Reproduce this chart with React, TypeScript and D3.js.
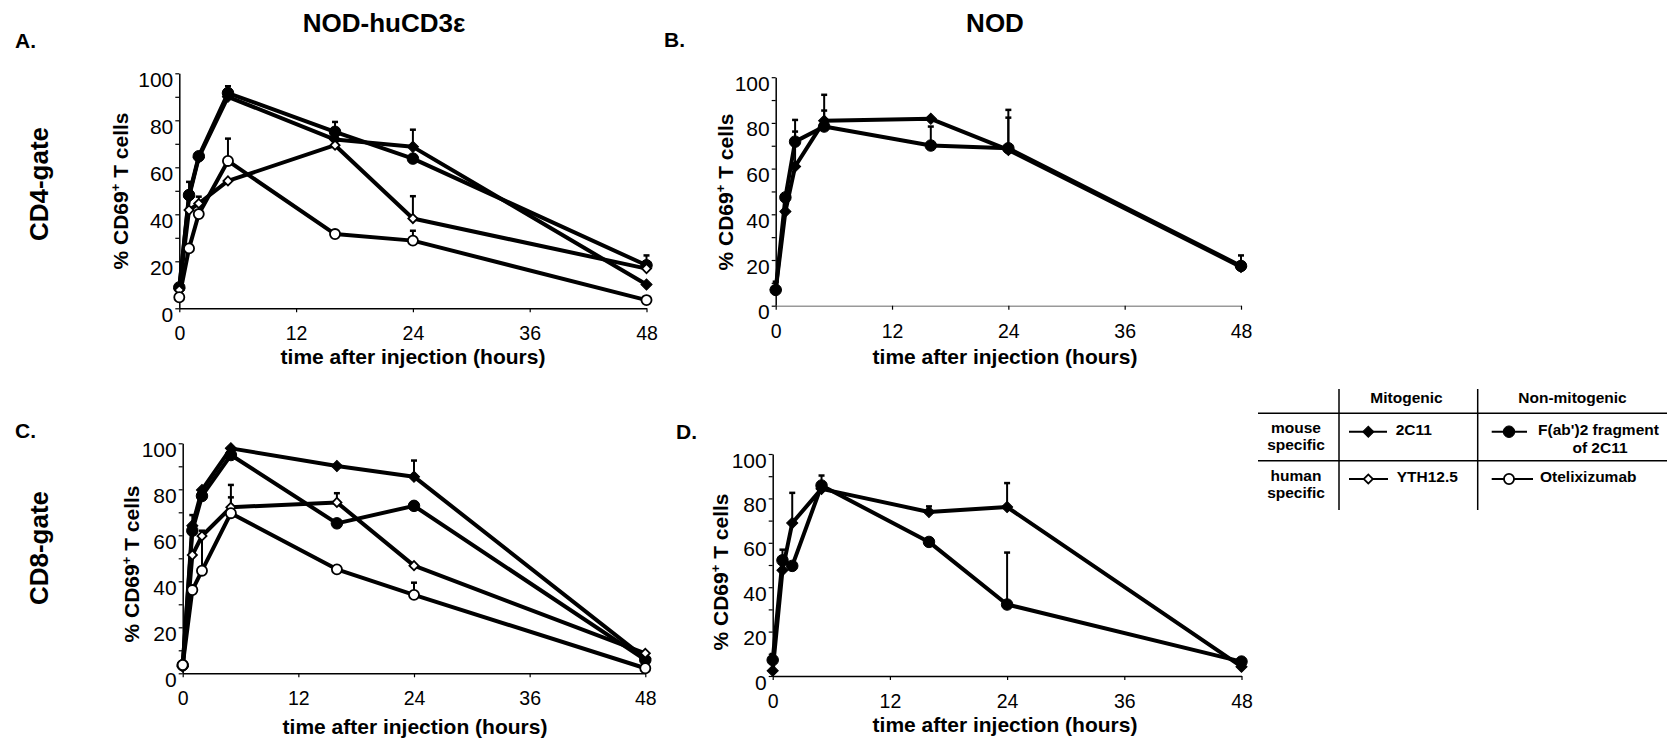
import React, { useRef, useEffect } from 'react';
import * as d3 from 'd3';

// hours after injection
const hours = [0, 1, 2, 5, 16, 24, 48];
const xTickValues = [0, 12, 24, 36, 48];
const yTickValues = [0, 10, 20, 30, 40, 50, 60, 70, 80, 90, 100];
const yTickLabels = [0, 20, 40, 60, 80, 100];

// A. NOD-huCD3e, CD4-gate
const a2C11 = [8.5, 47.5, 64.2, 90, 71.8, 68.7, 10.1];
const a2C11Err = [0, 6.3, 0, 0, 0, 7.3, 0];
const aFab = [8.9, 48.2, 64.7, 91.6, 75.1, 63.7, 18.3];
const aFabErr = [0, 0, 0, 2.9, 4.2, 0, 4.2];
const aYTH = [7.8, 41.8, 44.6, 54.2, 69.4, 38.2, 16.9];
const aYTHErr = [0, 0, 2.9, 0, 0, 9.5, 0];
const aOtel = [4.7, 25.5, 40.1, 62.7, 31.6, 28.8, 3.5];
const aOtelErr = [0, 0, 0, 9.5, 0, 4.2, 0];

// B. NOD, CD4-gate
const b2C11 = [7, 41.2, 60.9, 80.9, 81.8, 68.2, 17];
const b2C11Err = [0, 0, 15.3, 11.4, 0, 14.1, 0];
const bFab = [6.9, 47.4, 71.8, 78.4, 70.1, 68.9, 17.4];
const bFabErr = [3.6, 0, 9.5, 7, 8.3, 16.8, 4.6];

// C. NOD-huCD3e, CD8-gate
const c2C11 = [3, 64.2, 79.7, 97.8, 90.1, 85.5, 6.5];
const c2C11Err = [0, 4.6, 0, 0, 0, 7, 0];
const cFab = [3.5, 62, 77.1, 94.9, 65.2, 72.8, 5.8];
const cFabErr = [0, 0, 0, 0, 0, 0, 0];
const cYTH = [3, 51.4, 59.7, 72.2, 74.3, 46.8, 8.7];
const cYTHErr = [0, 0, 0, 9.7, 4, 0, 0];
const cOtel = [3.6, 36.2, 44.6, 69.6, 45.2, 34.1, 2.2];
const cOtelErr = [0, 0, 17.4, 6.9, 0, 5.3, 0];

// D. NOD, CD8-gate
const d2C11 = [2.4, 47.6, 68.9, 84.3, 73.9, 76.1, 4.2];
const d2C11Err = [0, 0, 13.6, 0, 2.5, 10.8, 0];
const dFab = [7.2, 52.1, 49.6, 85.8, 60.4, 32.2, 6.5];
const dFabErr = [2.7, 4.8, 0, 4.5, 1.6, 23.4, 0];

const FONT = '"Liberation Sans", Arial, Helvetica, sans-serif';

// marker look per antibody
const markerStyle = {
  '2C11': { shape: 'diamond', filled: true },
  'Fab': { shape: 'circle', filled: true },
  'YTH12.5': { shape: 'diamond', filled: false },
  'Otelixizumab': { shape: 'circle', filled: false },
};

const panels = [
  {
    left: 179.3, right: 646.5, top: 73.3, bottom: 308.3, xAxisColor: '#000',
    series: [
      { name: '2C11', values: a2C11, err: a2C11Err },
      { name: 'Fab', values: aFab, err: aFabErr },
      { name: 'YTH12.5', values: aYTH, err: aYTHErr },
      { name: 'Otelixizumab', values: aOtel, err: aOtelErr },
    ],
  },
  {
    left: 775.7, right: 1241, top: 77.2, bottom: 305.7, xAxisColor: '#999',
    series: [
      { name: '2C11', values: b2C11, err: b2C11Err },
      { name: 'Fab', values: bFab, err: bFabErr },
    ],
  },
  {
    left: 182.7, right: 645.3, top: 443.3, bottom: 673.3, xAxisColor: '#000',
    series: [
      { name: '2C11', values: c2C11, err: c2C11Err },
      { name: 'Fab', values: cFab, err: cFabErr },
      { name: 'YTH12.5', values: cYTH, err: cYTHErr },
      { name: 'Otelixizumab', values: cOtel, err: cOtelErr },
    ],
  },
  {
    left: 772.7, right: 1241.5, top: 454, bottom: 676, xAxisColor: '#000',
    series: [
      { name: '2C11', values: d2C11, err: d2C11Err },
      { name: 'Fab', values: dFab, err: dFabErr },
    ],
  },
];

const symbolPath = (shape: string, filled: boolean) => {
  if (shape === 'diamond') {
    return d3.symbol().type(d3.symbolSquare).size(filled ? 62 : 42)();
  }
  return d3.symbol().type(d3.symbolCircle).size(filled ? 104 : 80)();
};

const drawMarker = (sel: any, name: string, cx: number, cy: number) => {
  const st = markerStyle[name];
  sel.append('path')
    .attr('d', symbolPath(st.shape, st.filled))
    .attr('transform', `translate(${cx},${cy})` + (st.shape === 'diamond' ? ' rotate(45)' : ''))
    .attr('fill', st.filled ? '#000' : '#fff')
    .attr('stroke', '#000')
    .attr('stroke-width', st.filled ? 1 : 1.8);
};

const YTitle = ({ x, y }: { x: number; y: number }) => (
  <text transform={`translate(${x},${y}) rotate(-90)`} textAnchor="middle" fontSize={21} fontWeight="bold">
    % CD69<tspan fontSize={13} dy={-8}>+</tspan><tspan dy={8}> T cells</tspan>
  </text>
);

const XTitle = ({ x, y }: { x: number; y: number }) => (
  <text x={x} y={y} textAnchor="middle" fontSize={21} fontWeight="bold">time after injection (hours)</text>
);

export default function App() {
  const svgRef = useRef<SVGSVGElement>(null);

  useEffect(() => {
    const svg = d3.select(svgRef.current);
    svg.selectAll('.plot').remove();

    panels.forEach(p => {
      const x = d3.scaleLinear().domain([0, 48]).range([p.left, p.right]);
      const y = d3.scaleLinear().domain([0, 100]).range([p.bottom, p.top]);
      const g = svg.append('g').attr('class', 'plot');

      // axes
      const yAxis = g.append('g')
        .attr('transform', `translate(${p.left},0)`)
        .call(d3.axisLeft(y).tickValues(yTickValues).tickSize(4).tickSizeOuter(0).tickPadding(2)
          .tickFormat((d: any) => (yTickLabels.includes(+d) ? String(d) : '')))
        .attr('font-size', 21)
        .attr('font-family', FONT);
      yAxis.select('.domain').attr('stroke-width', 1.5);
      yAxis.selectAll('.tick line').attr('stroke-width', 1.2);
      yAxis.selectAll('text').attr('dy', '13px');

      const xAxis = g.append('g')
        .attr('transform', `translate(0,${p.bottom})`)
        .call(d3.axisBottom(x).tickValues(xTickValues).tickSize(4).tickSizeOuter(0).tickPadding(14))
        .attr('font-size', 19.5)
        .attr('font-family', FONT);
      xAxis.select('.domain').attr('stroke', p.xAxisColor).attr('stroke-width', 1.5);
      xAxis.selectAll('.tick line').attr('stroke-width', 1.2);

      // lines
      const line = d3.line<number>()
        .x((_, i) => x(hours[i]))
        .y(d => y(d));
      p.series.forEach(s => {
        g.append('path')
          .attr('d', line(s.values))
          .attr('fill', 'none')
          .attr('stroke', '#000')
          .attr('stroke-width', 4)
          .attr('stroke-linejoin', 'round');
      });

      // error bars (upper only)
      p.series.forEach(s => {
        s.values.forEach((v, i) => {
          if (!s.err[i]) return;
          const cx = x(hours[i]);
          g.append('line')
            .attr('x1', cx).attr('x2', cx)
            .attr('y1', y(v)).attr('y2', y(v + s.err[i]))
            .attr('stroke', '#000').attr('stroke-width', 2);
          g.append('line')
            .attr('x1', cx - 3).attr('x2', cx + 3)
            .attr('y1', y(v + s.err[i])).attr('y2', y(v + s.err[i]))
            .attr('stroke', '#000').attr('stroke-width', 2.5);
        });
      });

      // markers
      p.series.forEach(s => {
        s.values.forEach((v, i) => drawMarker(g, s.name, x(hours[i]), y(v)));
      });
    });

    // legend markers
    const lg = svg.append('g').attr('class', 'plot');
    drawMarker(lg, '2C11', 1368.3, 431.7);
    drawMarker(lg, 'Fab', 1509, 431.7);
    drawMarker(lg, 'YTH12.5', 1368.3, 479);
    drawMarker(lg, 'Otelixizumab', 1509, 479);
  }, []);

  return (
    <svg ref={svgRef} width={1671} height={743} fontFamily={FONT}
      style={{ position: 'absolute', left: 0, top: 0, background: '#fff' }}>
      {/* column headers */}
      <text x={384} y={32} textAnchor="middle" fontSize={26} fontWeight="bold">NOD-huCD3ε</text>
      <text x={995} y={32} textAnchor="middle" fontSize={26} fontWeight="bold">NOD</text>

      {/* row labels */}
      <text transform="translate(48,184) rotate(-90)" textAnchor="middle" fontSize={26} fontWeight="bold">CD4-gate</text>
      <text transform="translate(48,548) rotate(-90)" textAnchor="middle" fontSize={26} fontWeight="bold">CD8-gate</text>

      {/* panel letters */}
      <text x={15} y={48} fontSize={21} fontWeight="bold">A.</text>
      <text x={664} y={47} fontSize={21} fontWeight="bold">B.</text>
      <text x={15} y={438} fontSize={21} fontWeight="bold">C.</text>
      <text x={676} y={439} fontSize={21} fontWeight="bold">D.</text>

      <YTitle x={128} y={191} />
      <YTitle x={733} y={192} />
      <YTitle x={138.5} y={564} />
      <YTitle x={728} y={572} />

      <XTitle x={413} y={364} />
      <XTitle x={1005} y={364} />
      <XTitle x={415} y={734} />
      <XTitle x={1005} y={732} />

      {/* legend table */}
      <g stroke="#000" strokeWidth={1.5}>
        <line x1={1258} x2={1667} y1={413.3} y2={413.3} />
        <line x1={1258} x2={1667} y1={460.7} y2={460.7} />
        <line x1={1339} x2={1339} y1={389} y2={510} />
        <line x1={1477.7} x2={1477.7} y1={389} y2={510} />
      </g>
      <g stroke="#000" strokeWidth={2}>
        <line x1={1349} x2={1387} y1={431.7} y2={431.7} />
        <line x1={1491.7} x2={1527} y1={431.7} y2={431.7} />
        <line x1={1349} x2={1388} y1={479} y2={479} />
        <line x1={1491.7} x2={1533} y1={479} y2={479} />
      </g>
      <g fontSize={15.5} fontWeight="bold">
        <text x={1406.5} y={403} textAnchor="middle">Mitogenic</text>
        <text x={1572.5} y={403} textAnchor="middle">Non-mitogenic</text>
        <text x={1296} y={433} textAnchor="middle">mouse</text>
        <text x={1296} y={450} textAnchor="middle">specific</text>
        <text x={1296} y={481} textAnchor="middle">human</text>
        <text x={1296} y={498} textAnchor="middle">specific</text>
        <text x={1395.7} y={435}>2C11</text>
        <text x={1598.5} y={435} textAnchor="middle">F(ab')2 fragment</text>
        <text x={1600} y={453} textAnchor="middle">of 2C11</text>
        <text x={1396.7} y={482}>YTH12.5</text>
        <text x={1540} y={482}>Otelixizumab</text>
      </g>
    </svg>
  );
}
